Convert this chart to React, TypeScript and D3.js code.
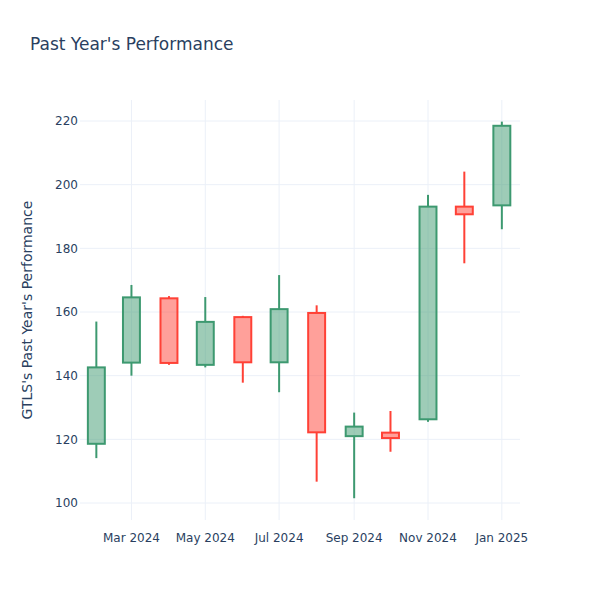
import React from "react";
import * as d3 from "d3";

const dates = ["2024-02-01","2024-03-01","2024-04-01","2024-05-01","2024-06-01","2024-07-01","2024-08-01","2024-09-01","2024-10-01","2024-11-01","2024-12-01","2025-01-01"];
const opens = [118.6, 144.1, 164.3, 143.4, 158.4, 144.2, 159.7, 121.0, 122.1, 126.3, 193.1, 193.5];
const highs = [157.0, 168.5, 165.0, 164.7, 158.8, 171.6, 162.1, 128.4, 128.9, 196.8, 204.1, 219.8];
const lows = [114.1, 140.0, 143.4, 142.6, 137.8, 134.8, 106.7, 101.5, 116.1, 125.5, 175.3, 186.0];
const closes = [142.6, 164.6, 144.0, 156.9, 144.2, 160.9, 122.2, 124.0, 120.4, 193.1, 190.7, 218.5];
const yTicks = [100, 120, 140, 160, 180, 200, 220];
const xTickDates = ["2024-03-01","2024-05-01","2024-07-01","2024-09-01","2024-11-01","2025-01-01"];

const title = "Past Year's Performance";
const yTitle = "GTLS's Past Year's Performance";

const W = 600, H = 600;
const M = { l: 80, r: 80, t: 100, b: 80 };
const FONT = "DejaVu Sans, sans-serif";
const TXT = "#2a3f5f";
const GRID = "#ebf0f8";
const INC = "#3D9970", DEC = "#FF4136";

const parse = (s: string) => new Date(s + "T00:00:00");

export default function App() {
  const x = d3.scaleTime()
    .domain([new Date(2024, 0, 18, 12), new Date(2025, 0, 16, 0)])
    .range([M.l, W - M.r]);
  const y = d3.scaleLinear().domain([94.66, 226.6]).range([H - M.b, M.t]);
  const fmt = d3.timeFormat("%b %Y");
  const halfDays = 7;

  return (
    <svg width={W} height={H} style={{ position: "absolute", left: 0, top: 0, background: "#fff" }} fontFamily={FONT}>
      <rect x={0} y={0} width={W} height={H} fill="#fff" />
      {yTicks.map(t => (
        <line key={"gy" + t} x1={M.l} x2={W - M.r} y1={y(t)} y2={y(t)} stroke={GRID} strokeWidth={1} />
      ))}
      {xTickDates.map(d => (
        <line key={"gx" + d} x1={x(parse(d))} x2={x(parse(d))} y1={M.t} y2={H - M.b} stroke={GRID} strokeWidth={1} />
      ))}
      {dates.map((d, i) => {
        const dt = parse(d);
        const cx = x(dt);
        const x0 = x(d3.timeDay.offset(dt, -halfDays));
        const x1 = x(d3.timeDay.offset(dt, halfDays));
        const inc = closes[i] >= opens[i];
        const col = inc ? INC : DEC;
        const fill = inc ? "rgba(61,153,112,0.5)" : "rgba(255,65,54,0.5)";
        const top = y(Math.max(opens[i], closes[i]));
        const bot = y(Math.min(opens[i], closes[i]));
        return (
          <g key={d}>
            <line x1={cx} x2={cx} y1={y(highs[i])} y2={top} stroke={col} strokeWidth={2} />
            <line x1={cx} x2={cx} y1={bot} y2={y(lows[i])} stroke={col} strokeWidth={2} />
            <rect x={x0} y={top} width={x1 - x0} height={bot - top} fill={fill} stroke={col} strokeWidth={2} />
          </g>
        );
      })}
      {yTicks.map(t => (
        <text key={"ty" + t} x={M.l - 2} y={y(t)} dy="0.35em" textAnchor="end" fontSize={12} fill={TXT}>{t}</text>
      ))}
      {xTickDates.map(d => (
        <text key={"tx" + d} x={x(parse(d))} y={H - M.b + 13} dy="0.71em" textAnchor="middle" fontSize={12} fill={TXT}>{fmt(parse(d))}</text>
      ))}
      <text x={30} y={50} fontSize={17} fill={TXT}>{title}</text>
      <text transform={`translate(${32},${(M.t + H - M.b) / 2}) rotate(-90)`} textAnchor="middle" fontSize={14} fill={TXT}>{yTitle}</text>
    </svg>
  );
}
